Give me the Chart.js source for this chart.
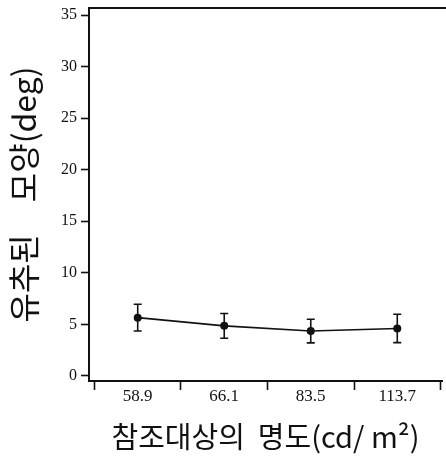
<!DOCTYPE html>
<html>
<head>
<meta charset="utf-8">
<script src="https://cdn.jsdelivr.net/npm/chart.js@4"></script>
<style>
  html, body { margin: 0; padding: 0; background: #fff; overflow: hidden; }
  #wrap { width: 446px; height: 463px; }
</style>
</head>
<body>
<div id="wrap"><canvas id="chart" width="446" height="463"></canvas></div>
<script>
// 데이터
const luminance = ['58.9', '66.1', '83.5', '113.7'];   // 참조대상의 명도 (cd/m²)
const meanDeg = [5.65, 4.85, 4.35, 4.6];               // 유추된 모양 (deg)
const errDeg = [1.3, 1.2, 1.15, 1.38];                 // 오차 막대
const yTicks = [0, 5, 10, 15, 20, 25, 30, 35];

const INK = '#111';
const NONE = 'rgba(0,0,0,0)';
const serif = "'Liberation Serif', 'DejaVu Serif', serif";
const kor = "'Noto Sans CJK KR', 'Noto Sans', sans-serif";

// 오차 막대 + 위쪽 테두리
const errorBars = {
  id: 'errorBars',
  afterDatasetsDraw(chart) {
    const ctx = chart.ctx;
    const xs = chart.scales.x;
    const ys = chart.scales.y;
    const area = chart.chartArea;
    ctx.save();
    ctx.strokeStyle = INK;

    // 위쪽 테두리 선 (오른쪽 끝까지)
    ctx.lineWidth = 2;
    ctx.beginPath();
    ctx.moveTo(area.left, area.top);
    ctx.lineTo(chart.width, area.top);
    ctx.stroke();

    ctx.lineWidth = 1.6;
    meanDeg.forEach((m, i) => {
      const x = xs.getPixelForValue(i);
      const top = ys.getPixelForValue(m + errDeg[i]);
      const bot = ys.getPixelForValue(m - errDeg[i]);
      ctx.beginPath();
      ctx.moveTo(x, top); ctx.lineTo(x, bot);
      ctx.moveTo(x - 4, top); ctx.lineTo(x + 4, top);
      ctx.moveTo(x - 4, bot); ctx.lineTo(x + 4, bot);
      ctx.stroke();
    });
    ctx.restore();
  }
};

function noPad(scale) {
  scale.paddingTop = 0;
  scale.paddingBottom = 0;
  scale.paddingLeft = 0;
  scale.paddingRight = 0;
}

new Chart(document.getElementById('chart'), {
  type: 'line',
  data: {
    datasets: [{
      data: meanDeg.map((v, i) => ({ x: i, y: v })),
      borderColor: INK,
      borderWidth: 1.6,
      backgroundColor: INK,
      pointRadius: 4,
      pointBackgroundColor: INK,
      pointBorderWidth: 0,
      tension: 0
    }]
  },
  options: {
    responsive: false,
    animation: false,
    layout: { padding: { top: 8, left: 0, right: 2, bottom: 0 } },
    plugins: { legend: { display: false }, tooltip: { enabled: false } },
    scales: {
      x: {
        type: 'linear',
        min: -0.563,
        max: 3.517,
        afterBuildTicks(scale) {
          const t = [];
          for (let v = -0.5; v <= 3.5; v += 0.5) t.push({ value: v });
          scale.ticks = t;
        },
        afterFit(scale) { scale.height = 82; noPad(scale); },
        grid: {
          drawOnChartArea: false,
          color: NONE,
          tickLength: 9,
          tickWidth: 1.6,
          tickColor: c => (c.tick && Number.isInteger(c.tick.value)) ? NONE : INK
        },
        border: { color: INK, width: 2 },
        ticks: {
          autoSkip: false,
          maxRotation: 0,
          padding: -2,
          color: INK,
          font: { family: serif, size: 17, lineHeight: 1 },
          callback: v => Number.isInteger(v) ? luminance[v] : ''
        },
        title: {
          display: true,
          text: '참조대상의  명도(cd/ m²)',
          color: INK,
          font: { family: kor, size: 29 },
          padding: { top: 0, bottom: 9 }
        }
      },
      y: {
        min: -0.5,
        max: 35.7,
        afterBuildTicks(scale) {
          scale.ticks = yTicks.map(v => ({ value: v }));
        },
        afterFit(scale) { scale.width = 89; noPad(scale); },
        grid: { drawOnChartArea: false, color: NONE, tickLength: 8, tickWidth: 1.6, tickColor: INK },
        border: { color: INK, width: 2 },
        ticks: {
          padding: 4,
          color: INK,
          font: { family: serif, size: 16 }
        },
        title: {
          display: true,
          text: '유추된　모양(deg)',
          color: INK,
          font: { family: kor, size: 32 },
          padding: { top: 5, bottom: 0 }
        }
      }
    }
  },
  plugins: [errorBars]
});
</script>
</body>
</html>
